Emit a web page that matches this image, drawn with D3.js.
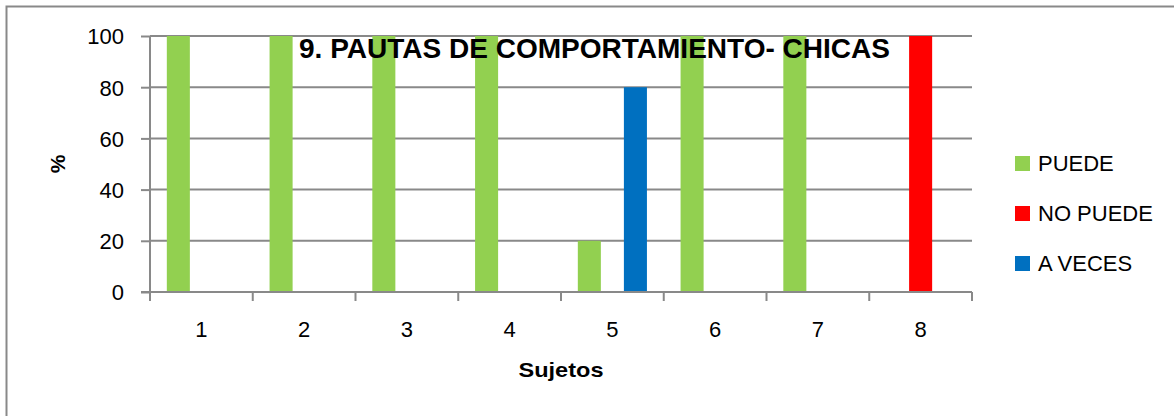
<!DOCTYPE html>
<html><head><meta charset="utf-8">
<script src="https://cdn.jsdelivr.net/npm/d3@7"></script>
<style>body{margin:0;background:#fff}svg{display:block}text{font-family:"Liberation Sans",Arial,sans-serif}</style>
</head><body><svg id="c" width="1174" height="416"></svg>
<script>
const categories = ["1","2","3","4","5","6","7","8"];
const seriesNames = ["PUEDE","NO PUEDE","A VECES"];
const puede   = [100,100,100,100,20,100,100,0];
const noPuede = [0,0,0,0,0,0,0,100];
const aVeces  = [0,0,0,0,80,0,0,0];
const yTicks = [0,20,40,60,80,100];
const colors = ["#92d050","#ff0000","#0070c0"];
const title = "9. PAUTAS DE COMPORTAMIENTO- CHICAS";

const svg = d3.select("#c");
const values = [puede, noPuede, aVeces];
const L=150, R=972, T=36, B=292;
const grid = "#898989";

svg.append("path").attr("d","M6.5,416V6.5H1174").attr("fill","none").attr("stroke",grid).attr("stroke-width",2);

const x = d3.scaleBand().domain(categories).range([L,R]).padding(0);
const x1 = d3.scaleBand().domain(seriesNames).range([0,x.bandwidth()]).paddingInner(0).paddingOuter(0.73);
const y = d3.scaleLinear().domain([0,100]).range([B,T]);

// gridlines
svg.append("g").selectAll("line").data(yTicks.filter(d=>d>0)).join("line")
  .attr("x1",L).attr("x2",R).attr("y1",d=>y(d)).attr("y2",d=>y(d))
  .attr("stroke",grid).attr("stroke-width",2);

// bars
const g = svg.append("g");
seriesNames.forEach((s,si)=>{
  g.selectAll(null).data(categories.map((c,i)=>({c,v:values[si][i]})).filter(d=>d.v>0)).join("rect")
    .attr("x",d=>x(d.c)+x1(s)).attr("width",x1.bandwidth())
    .attr("y",d=>y(d.v)).attr("height",d=>y(0)-y(d.v))
    .attr("fill",colors[si]);
});

// y axis
const ya = svg.append("g").attr("transform",`translate(${L},0)`)
  .call(d3.axisLeft(y).tickValues(yTicks).tickSize(9).tickPadding(17));
ya.select(".domain").attr("stroke",grid).attr("stroke-width",2).attr("d",`M0,${T}V${B}`);
ya.selectAll(".tick line").attr("stroke",grid).attr("stroke-width",2);
ya.selectAll(".tick text").attr("font-size",22).attr("fill","#000").attr("font-family","Liberation Sans, Arial, sans-serif").attr("dy","0.36em");

// x axis
const xa = svg.append("g").attr("transform",`translate(0,${B})`);
xa.append("line").attr("x1",L-9).attr("x2",R).attr("stroke",grid).attr("stroke-width",2);
const bounds = categories.map(c=>x(c)).concat([R]);
xa.selectAll("line.t").data(bounds).join("line").attr("class","t")
  .attr("x1",d=>d).attr("x2",d=>d).attr("y1",0).attr("y2",9).attr("stroke",grid).attr("stroke-width",2);
xa.selectAll("text").data(categories).join("text")
  .attr("x",d=>x(d)+x.bandwidth()/2).attr("y",45).attr("text-anchor","middle")
  .attr("font-size",22).attr("fill","#000").text(d=>d);

// title
svg.append("text").attr("x",594.5).attr("y",58).attr("text-anchor","middle")
  .attr("font-size",28).attr("font-weight","bold").attr("textLength",591).attr("lengthAdjust","spacingAndGlyphs")
  .text(title);

// axis titles
svg.append("text").attr("transform","translate(65,164) rotate(-90)").attr("text-anchor","middle")
  .attr("font-size",21).attr("font-weight","bold").text("%");
svg.append("text").attr("x",561).attr("y",377).attr("text-anchor","middle")
  .attr("font-size",21).attr("font-weight","bold").attr("textLength",85).attr("lengthAdjust","spacingAndGlyphs").text("Sujetos");

// legend
const lg = svg.append("g");
seriesNames.forEach((s,i)=>{
  lg.append("rect").attr("x",1015).attr("y",156+i*50).attr("width",15).attr("height",15).attr("fill",colors[i]);
  lg.append("text").attr("x",1038).attr("y",171+i*50).attr("font-size",22).text(s);
});
</script></body></html>
